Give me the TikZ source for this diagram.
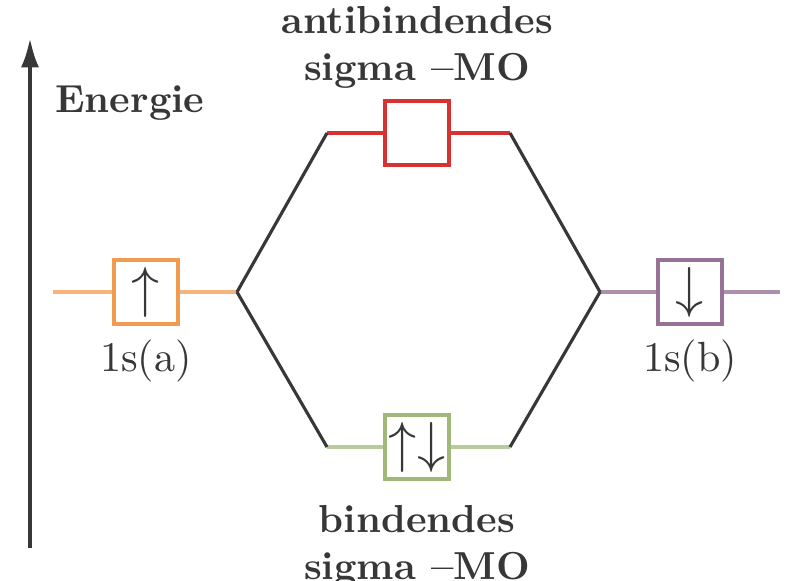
\documentclass[tikz,border=0pt]{standalone}
\usepackage{xcolor}
\usepackage{amsmath}
\usepackage{tikz}
\usetikzlibrary{arrows.meta, positioning}
\definecolor{aoleft}{RGB}{240,155,80}
\definecolor{aoright}{RGB}{150,115,150}
\definecolor{antibond}{RGB}{215,50,50}
\definecolor{bond}{RGB}{160,185,120}
\definecolor{ink}{RGB}{55,55,55}
\tikzset{
  orbbox/.style={rectangle, draw=#1, fill=white, line width=1pt, minimum size=16.4pt, inner sep=0pt, font=\Large, text=ink},
  level/.style={line width=1pt, color=#1},
  link/.style={line width=0.8pt, color=ink},
  moname/.style={font=\bfseries, align=center, text=ink, inner sep=0pt},
  aoname/.style={font=\fontsize{10.8}{13}\selectfont, text=ink},
}
\begin{document}
\begin{tikzpicture}[x=0.09mm, y=-0.09mm]
  \useasboundingbox (0,0) rectangle (787,580);
  % Energy axis
  \coordinate (axislow) at (30,548);
  \coordinate (axishigh) at (30,38);
  \draw[-{Latex[length=7.5pt,width=4.6pt]}, line width=1pt, ink] (axislow) -- (axishigh);
  \node[moname] (energy) at (130,103) {Energie};

  % Atomic orbitals
  \node[orbbox=aoleft] (aoA) at (146,292) {$\uparrow$};
  \node[orbbox=aoright] (aoB) at (690,292) {$\downarrow$};
  \node[aoname, below=0pt of aoA] (labA) {1s(a)};
  \node[aoname, below=0pt of aoB] (labB) {1s(b)};

  % Molecular orbitals
  \node[orbbox=antibond] (mostar) at (417,133) {};
  \node[orbbox=bond] (mo) at (417,447) {$\uparrow\downarrow$};
  \node[moname, above=2.5pt of mostar] (labstar) {antibindendes\\sigma --MO};
  \node[moname, below=6pt of mo] (labmo) {bindendes\\sigma --MO};

  % Level ends
  \coordinate (endA) at (53,292);
  \coordinate (joinA) at (237,292);
  \coordinate (endB) at (780,292);
  \coordinate (joinB) at (600,292);
  \coordinate (starL) at (327,133);
  \coordinate (starR) at (510,133);
  \coordinate (moL) at (327,447);
  \coordinate (moR) at (510,447);

  % Levels
  \draw[level=aoleft!75] (endA) -- (aoA.west);
  \draw[level=aoleft!75] (aoA.east) -- (joinA);
  \draw[level=aoright!80] (aoB.east) -- (endB);
  \draw[level=aoright!80] (joinB) -- (aoB.west);
  \draw[level=antibond] (starL) -- (mostar.west);
  \draw[level=antibond] (mostar.east) -- (starR);
  \draw[level=bond!75] (moL) -- (mo.west);
  \draw[level=bond!75] (mo.east) -- (moR);

  % Correlation lines
  \draw[link] (joinA) -- (starL);
  \draw[link] (joinA) -- (moL);
  \draw[link] (joinB) -- (starR);
  \draw[link] (joinB) -- (moR);
\end{tikzpicture}
\end{document}
